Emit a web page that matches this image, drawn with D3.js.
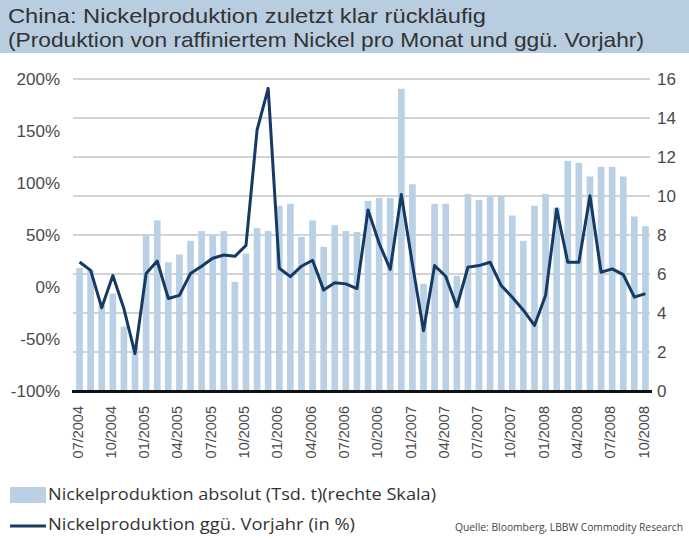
<!DOCTYPE html>
<html><head><meta charset="utf-8">
<script src="https://cdn.jsdelivr.net/npm/d3@7"></script>
<style>
html,body{margin:0;padding:0;background:#fff;}
svg{display:block;font-family:"Open Sans","Liberation Sans",sans-serif;}
</style></head><body>
<svg id="c" width="689" height="539"></svg>
<script>
const titleLines = ["China: Nickelproduktion zuletzt klar rückläufig",
  "(Produktion von raffiniertem Nickel pro Monat und ggü. Vorjahr)"];
const months = ["07/2004","08/2004","09/2004","10/2004","11/2004","12/2004",
 "01/2005","02/2005","03/2005","04/2005","05/2005","06/2005","07/2005","08/2005","09/2005","10/2005","11/2005","12/2005",
 "01/2006","02/2006","03/2006","04/2006","05/2006","06/2006","07/2006","08/2006","09/2006","10/2006","11/2006","12/2006",
 "01/2007","02/2007","03/2007","04/2007","05/2007","06/2007","07/2007","08/2007","09/2007","10/2007","11/2007","12/2007",
 "01/2008","02/2008","03/2008","04/2008","05/2008","06/2008","07/2008","08/2008","09/2008","10/2008"];
const production = [6.3,6.2,4.4,5.0,3.3,2.3,
 8.0,8.75,6.6,7.0,7.7,8.2,8.0,8.2,5.6,7.05,8.35,8.2,
 9.5,9.6,7.9,8.75,7.4,8.5,8.2,8.15,9.75,9.9,9.9,15.5,
 10.6,5.5,9.6,9.6,5.9,10.1,9.8,10.0,10.0,9.0,7.7,9.5,
 10.1,9.4,11.8,11.7,11.0,11.5,11.5,11.0,8.95,8.45];
const yoy = [24,16,-20,11,-21,-64,
 13,25,-11,-8,13,20,27.6,30.8,29.5,40,151,191,
 18,10,20,25.7,-3,4,3,-1.5,74,42,17,89,
 22,-42,20.6,10.3,-19,19,20.6,23.8,1.4,-9.8,-22.3,-37,
 -8,75,23.8,23.8,87.7,14.2,17.4,11.9,-9.8,-6.3];
const leftTicks = [-100,-50,0,50,100,150,200];
const rightTicks = [0,2,4,6,8,10,12,14,16];
const tickMonths = ["07/2004","10/2004","01/2005","04/2005","07/2005","10/2005","01/2006","04/2006","07/2006","10/2006","01/2007","04/2007","07/2007","10/2007","01/2008","04/2008","07/2008","10/2008"];
const legendItems = ["Nickelproduktion absolut (Tsd. t)(rechte Skala)","Nickelproduktion ggü. Vorjahr (in %)"];
const sourceText = "Quelle: Bloomberg, LBBW Commodity Research";

const barColor = "#b9d0e5", lineColor = "#163a63", gridColor = "#c4c4c4", txt = "#4a4a4a";
const svg = d3.select("#c");
const plot = {l:74, r:651, t:79, b:391};

// header
svg.append("rect").attr("x",0).attr("y",0).attr("width",689).attr("height",53).attr("fill","#b8cde0");
svg.selectAll("text.title").data(titleLines).enter().append("text")
 .attr("class","title").attr("x",8).attr("y",(d,i)=>23+i*24)
 .attr("font-size",21).attr("fill","#333").attr("font-family","'Liberation Sans',sans-serif")
 .attr("textLength",(d,i)=>i===0?478:636).attr("lengthAdjust","spacingAndGlyphs")
 .text(d=>d);

const x = d3.scaleBand().domain(months).range([plot.l,plot.r]).paddingInner(0.4).paddingOuter(0.2);
const yR = d3.scaleLinear().domain([0,16]).range([plot.b,plot.t]);
const yL = d3.scaleLinear().domain([-100,200]).range([plot.b,plot.t]);

// gridlines (right axis)
svg.append("g").selectAll("line").data(rightTicks.filter(d=>d>0)).enter().append("line")
 .attr("x1",plot.l-1).attr("x2",plot.r-1).attr("y1",d=>yR(d)).attr("y2",d=>yR(d))
 .attr("stroke",gridColor).attr("stroke-width",1.5);

// bars
svg.append("g").selectAll("rect").data(months).enter().append("rect")
 .attr("x",d=>x(d)).attr("width",x.bandwidth())
 .attr("y",(d,i)=>yR(production[i])).attr("height",(d,i)=>yR(0)-yR(production[i]))
 .attr("fill",barColor);

// baseline
svg.append("line").attr("x1",plot.l-2).attr("x2",plot.r+1).attr("y1",plot.b+0.5).attr("y2",plot.b+0.5)
 .attr("stroke","#111").attr("stroke-width",3);

// line
const line = d3.line().x((d,i)=>x(months[i])+x.bandwidth()/2).y(d=>yL(d));
svg.append("path").datum(yoy).attr("d",line).attr("fill","none")
 .attr("stroke",lineColor).attr("stroke-width",3).attr("stroke-linejoin","round");

// left axis
const axL = d3.axisLeft(yL).tickValues(leftTicks).tickFormat(d=>d+"%").tickSize(0).tickPadding(0);
const gL = svg.append("g").attr("transform","translate(60,0)").call(axL);
gL.select(".domain").remove();
gL.selectAll("text").attr("font-size",17).attr("fill",txt).attr("font-family","inherit");

// right axis
const axR = d3.axisRight(yR).tickValues(rightTicks).tickSize(0).tickPadding(0);
const gR = svg.append("g").attr("transform","translate(657,0)").call(axR);
gR.select(".domain").remove();
gR.selectAll("text").attr("font-size",17).attr("fill",txt).attr("font-family","inherit");

// x axis labels
const axX = d3.axisBottom(x).tickValues(tickMonths).tickSize(0).tickPadding(0);
const gX = svg.append("g").attr("transform",`translate(0,${plot.b})`).call(axX);
gX.select(".domain").remove();
gX.selectAll("text").attr("font-size",14.5).attr("fill",txt).attr("font-family","inherit")
 .attr("transform","rotate(-90)").attr("text-anchor","end").attr("dx","-15").attr("dy","0.35em").attr("x",0).attr("y",0);
gX.selectAll(".tick").attr("transform",d=>`translate(${x(d)+x.bandwidth()/2-2},0)`);

// legend
const lg = svg.append("g");
lg.append("rect").attr("x",10).attr("y",487).attr("width",36).attr("height",16).attr("fill",barColor);
lg.append("line").attr("x1",10).attr("x2",46).attr("y1",526).attr("y2",526).attr("stroke",lineColor).attr("stroke-width",3);
lg.selectAll("text").data(legendItems).enter().append("text")
 .attr("x",48).attr("y",(d,i)=>500+i*30).attr("font-size",17).attr("fill","#333")
 .attr("textLength",(d,i)=>i===0?388:307).attr("lengthAdjust","spacingAndGlyphs")
 .text(d=>d);
svg.append("text").attr("x",455).attr("y",531).attr("font-size",10).attr("fill","#444")
 .attr("textLength",228).attr("lengthAdjust","spacingAndGlyphs").text(sourceText);
</script></body></html>
